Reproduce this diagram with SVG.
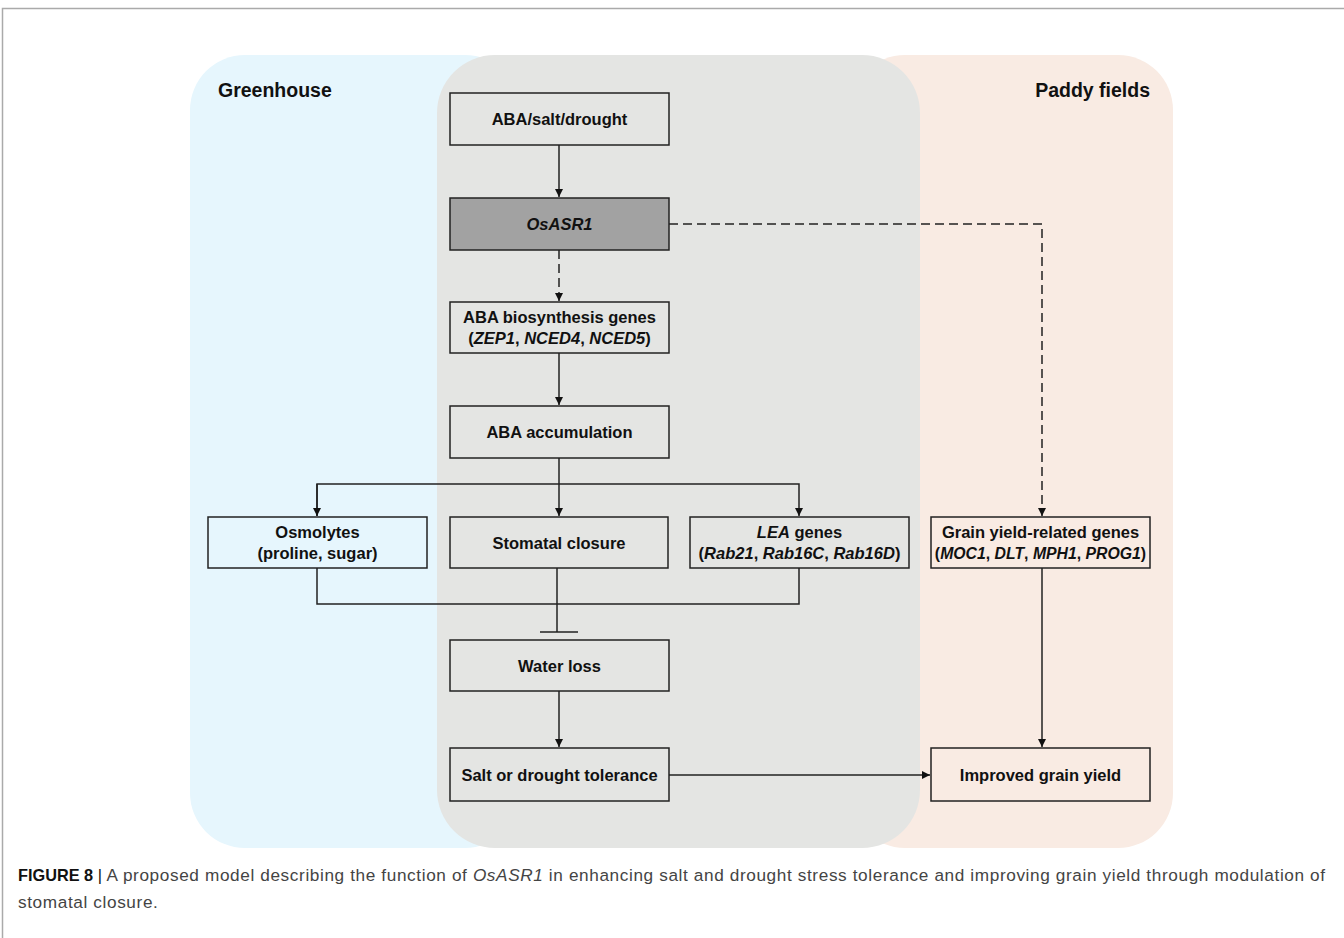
<svg xmlns="http://www.w3.org/2000/svg" width="1344" height="938" viewBox="0 0 1344 938">
<defs>
<marker id="arr" viewBox="0 0 10 10" refX="10" refY="5" markerWidth="8" markerHeight="8" markerUnits="userSpaceOnUse" orient="auto">
<path d="M0,0 L10,5 L0,10 z" fill="#111"/>
</marker>
<style>
.box{fill:none;stroke:#222;stroke-width:1.5}
.t{font-family:"Liberation Sans",Arial,sans-serif;font-weight:bold;font-size:16.5px;fill:#111;text-anchor:middle}
.h{font-family:"Liberation Sans",Arial,sans-serif;font-weight:bold;font-size:19.5px;fill:#111}
.c{stroke:#222;stroke-width:1.5;fill:none}
.d{stroke:#222;stroke-width:1.5;fill:none;stroke-dasharray:9 5}
.cap{font-family:"Liberation Sans",Arial,sans-serif;font-size:16.3px;fill:#444}
.sp{font-size:17.2px;letter-spacing:0.62px}
</style>
</defs>
<rect width="1344" height="938" fill="#fff"/>
<path d="M2.5,938 V8.5 H1344" fill="none" stroke="#aaa" stroke-width="1.5"/>
<g id="regions">
<rect x="190" y="55" width="330" height="793" rx="55" fill="#e6f6fd"/>
<rect x="850" y="55" width="323" height="793" rx="55" fill="#f9ebe3"/>
<rect x="437" y="55" width="483" height="793" rx="58" fill="#e4e5e3"/>
<text class="h" x="218" y="97">Greenhouse</text>
<text class="h" x="1150" y="97" text-anchor="end">Paddy fields</text>
</g>
<g id="n-stress"><rect class="box" x="450" y="93" width="219" height="52"/><text class="t" x="559.5" y="125">ABA/salt/drought</text></g>
<g id="n-osasr1"><rect x="450" y="198" width="219" height="52" fill="#a2a2a2" stroke="#222" stroke-width="1.5"/><text class="t" x="559.5" y="230" font-style="italic">OsASR1</text></g>
<g id="n-biosyn"><rect class="box" x="450" y="302" width="219" height="51"/><text class="t" x="559.5" y="323">ABA biosynthesis genes</text><text class="t" x="559.5" y="344">(<tspan font-style="italic">ZEP1</tspan>, <tspan font-style="italic">NCED4</tspan>, <tspan font-style="italic">NCED5</tspan>)</text></g>
<g id="n-accum"><rect class="box" x="450" y="406" width="219" height="52"/><text class="t" x="559.5" y="438">ABA accumulation</text></g>
<g id="n-osmo"><rect class="box" x="208" y="517" width="219" height="51"/><text class="t" x="317.5" y="538">Osmolytes</text><text class="t" x="317.5" y="559">(proline, sugar)</text></g>
<g id="n-stoma"><rect class="box" x="450" y="517" width="218" height="51"/><text class="t" x="559" y="549">Stomatal closure</text></g>
<g id="n-lea"><rect class="box" x="690" y="517" width="219" height="51"/><text class="t" x="799.5" y="538"><tspan font-style="italic">LEA</tspan> genes</text><text class="t" x="799.5" y="559">(<tspan font-style="italic">Rab21</tspan>, <tspan font-style="italic">Rab16C</tspan>, <tspan font-style="italic">Rab16D</tspan>)</text></g>
<g id="n-grain"><rect class="box" x="931" y="517" width="219" height="51"/><text class="t" x="1040.5" y="538">Grain yield-related genes</text><text class="t" x="1040.5" y="559" style="font-size:15.8px">(<tspan font-style="italic">MOC1</tspan>, <tspan font-style="italic">DLT</tspan>, <tspan font-style="italic">MPH1</tspan>, <tspan font-style="italic">PROG1</tspan>)</text></g>
<g id="n-water"><rect class="box" x="450" y="640" width="219" height="51"/><text class="t" x="559.5" y="672">Water loss</text></g>
<g id="n-tol"><rect class="box" x="450" y="748" width="219" height="53"/><text class="t" x="559.5" y="781">Salt or drought tolerance</text></g>
<g id="n-yield"><rect class="box" x="931" y="748" width="219" height="53"/><text class="t" x="1040.5" y="781">Improved grain yield</text></g>
<g id="connectors">
<line class="c" x1="559" y1="145" x2="559" y2="197" marker-end="url(#arr)"/>
<line class="d" x1="559" y1="250" x2="559" y2="301" marker-end="url(#arr)"/>
<path class="d" d="M669,224 H1042 V516" marker-end="url(#arr)"/>
<line class="c" x1="559" y1="353" x2="559" y2="405" marker-end="url(#arr)"/>
<line class="c" x1="559" y1="458" x2="559" y2="516" marker-end="url(#arr)"/>
<path class="c" d="M317,516 V484 H799 V516" marker-end="url(#arr)"/>
<path class="c" d="M317,484 V516" marker-end="url(#arr)"/>
<path class="c" d="M317,568 V604 H799 V568"/>
<line class="c" x1="557" y1="568" x2="557" y2="632"/>
<line class="c" x1="540" y1="632" x2="578" y2="632"/>
<line class="c" x1="559" y1="691" x2="559" y2="747" marker-end="url(#arr)"/>
<line class="c" x1="669" y1="775" x2="930" y2="775" marker-end="url(#arr)"/>
<line class="c" x1="1042" y1="568" x2="1042" y2="747" marker-end="url(#arr)"/>
</g>
<g id="caption">
<text class="cap" x="18" y="881"><tspan font-weight="bold" fill="#111">FIGURE 8</tspan> <tspan fill="#111">|</tspan> <tspan class="sp">A proposed model describing the function of <tspan font-style="italic">OsASR1</tspan> in enhancing salt and drought stress tolerance and improving grain yield through modulation of</tspan></text>
<text class="cap sp" x="18" y="908">stomatal closure.</text>
</g>
</svg>
